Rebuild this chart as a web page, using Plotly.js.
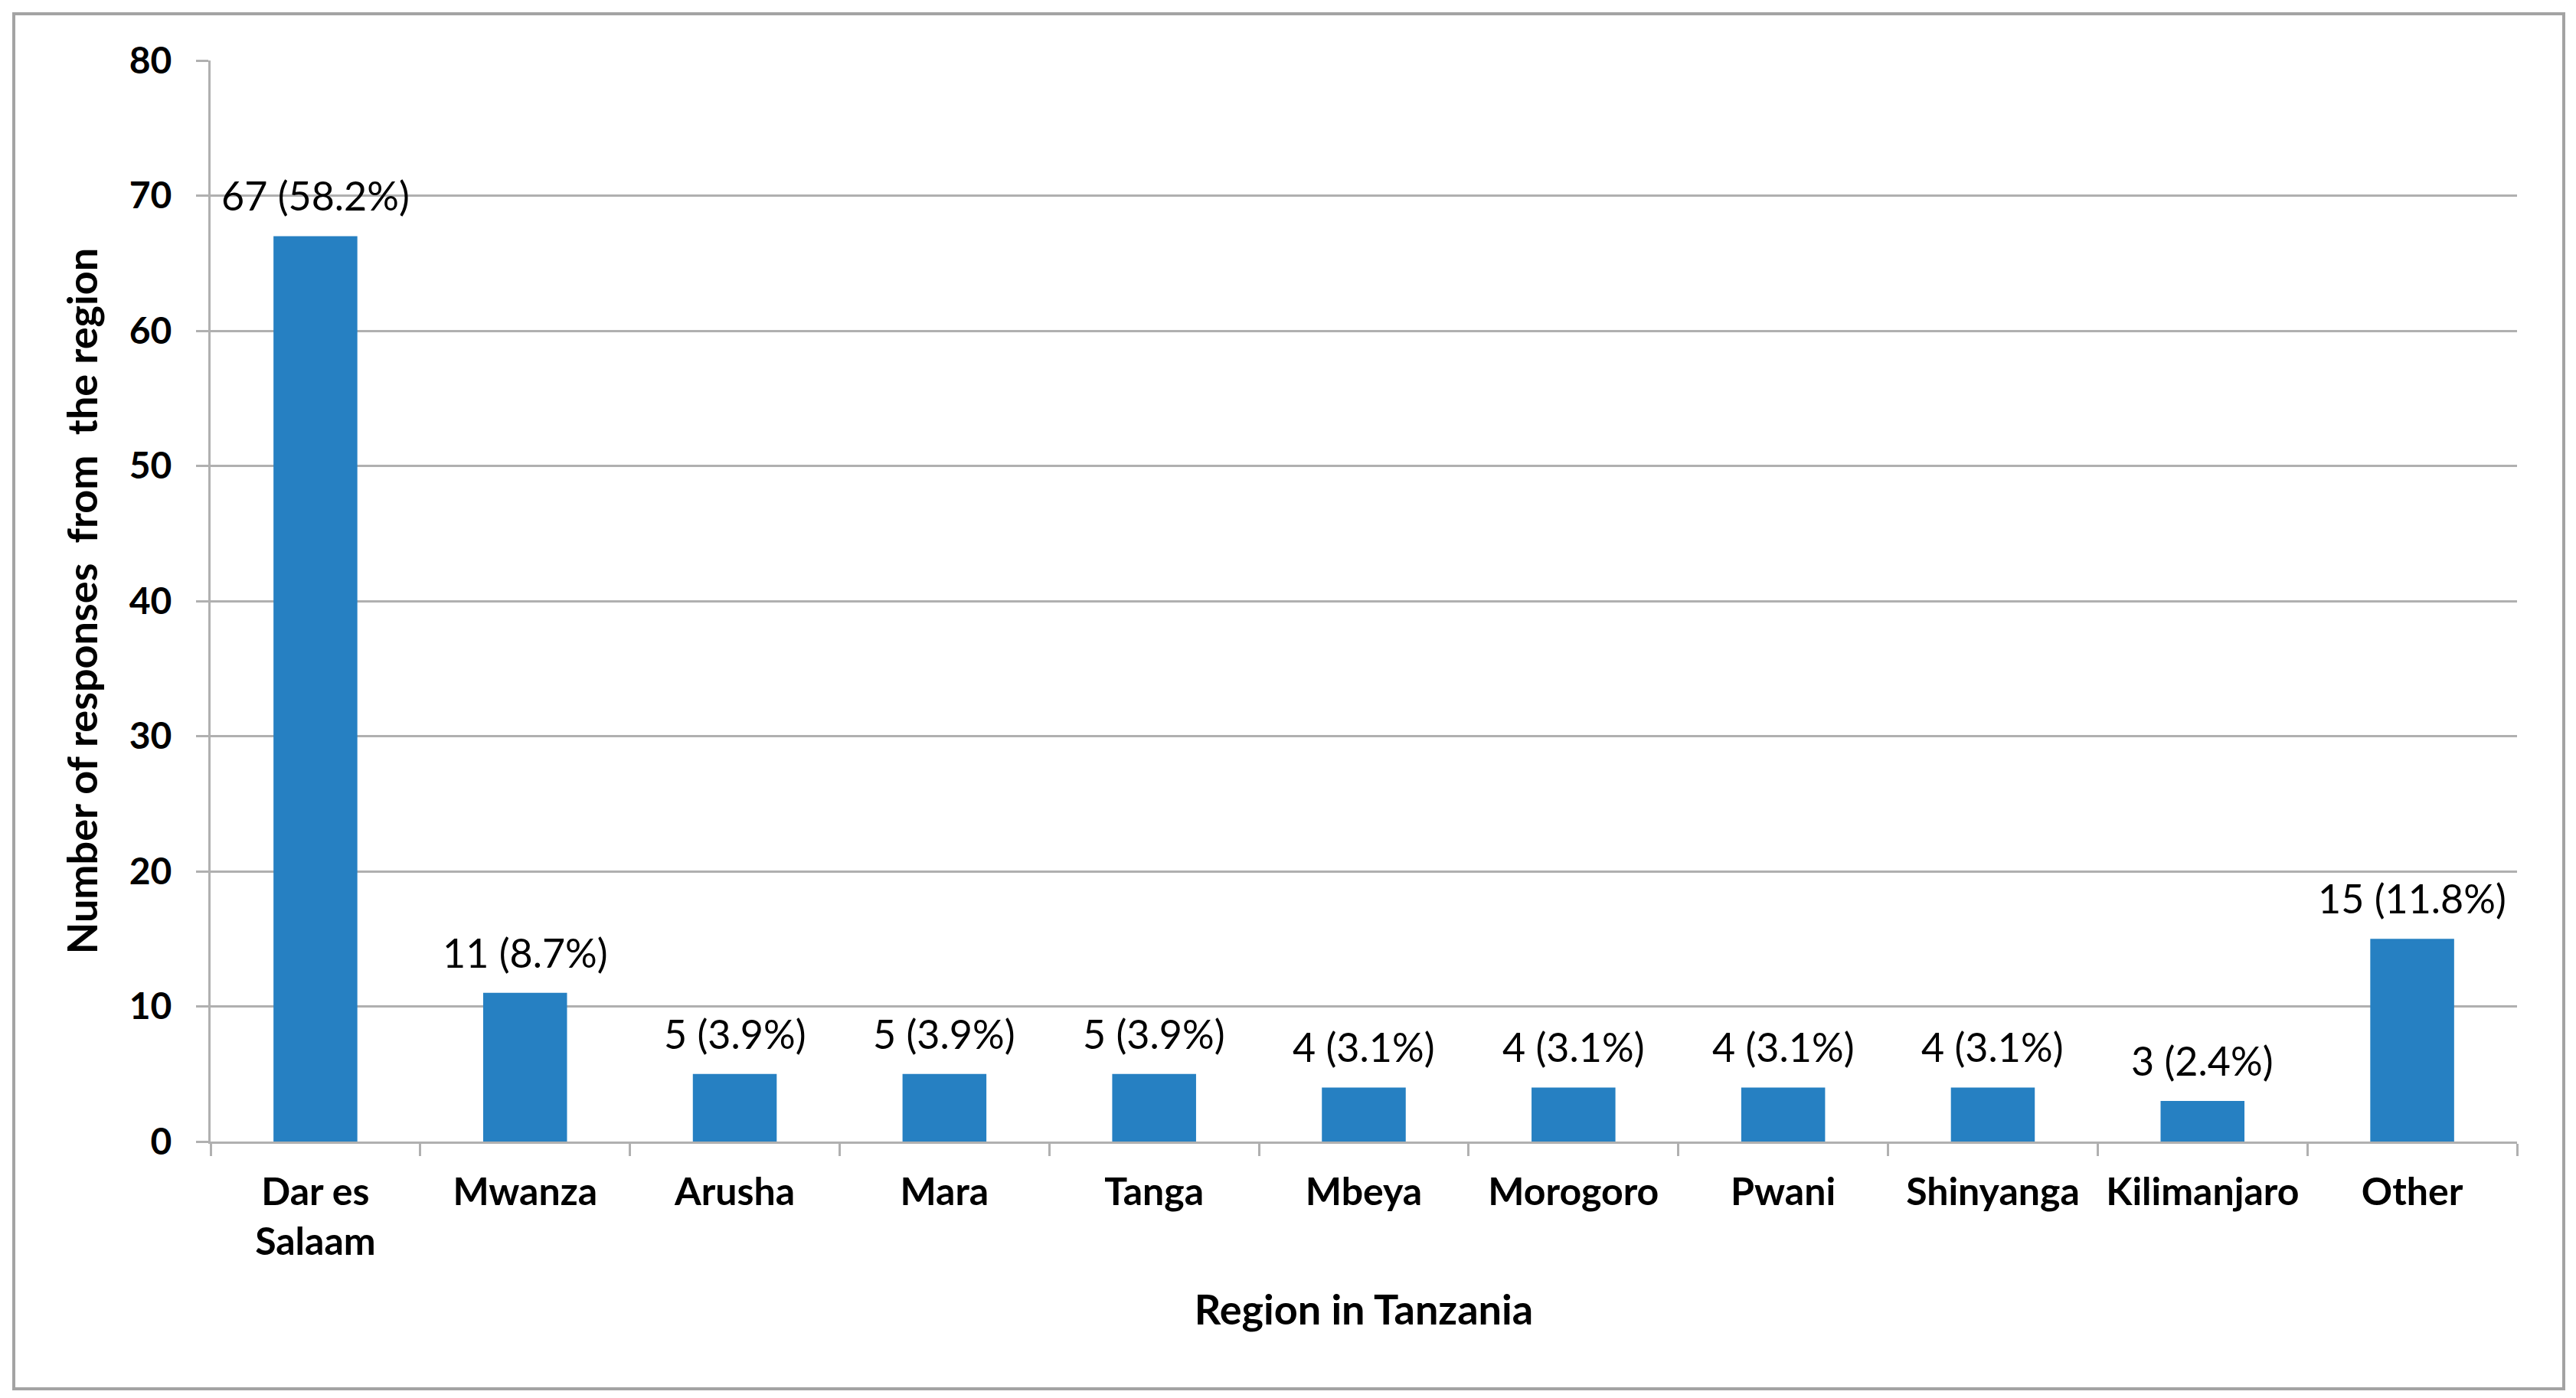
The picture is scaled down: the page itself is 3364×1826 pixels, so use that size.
<!DOCTYPE html>
<html>
<head>
<meta charset="utf-8">
<script src="https://cdn.plot.ly/plotly-3.0.1.min.js"></script>
<style>
  html, body { margin: 0; padding: 0; background: #ffffff; }
  #chart { width: 3364px; height: 1826px; }
  #frame {
    position: absolute; left: 16px; top: 16px;
    width: 3326px; height: 1792px;
    border: 4px solid #a3a3a3; pointer-events: none;
  }
</style>
</head>
<body>
<div id="chart"></div>
<div id="frame"></div>
<script>
// region names as shown on the x axis
const regions = ['Dar es<br>Salaam', 'Mwanza', 'Arusha', 'Mara', 'Tanga', 'Mbeya',
    'Morogoro', 'Pwani', 'Shinyanga', 'Kilimanjaro', 'Other'];
// number of responses per region
const responses = [67, 11, 5, 5, 5, 4, 4, 4, 4, 3, 15];
// share of responses, as printed above the bars
const shares = ['58.2%', '8.7%', '3.9%', '3.9%', '3.9%', '3.1%', '3.1%', '3.1%', '3.1%', '2.4%', '11.8%'];
const yTicks = [0, 10, 20, 30, 40, 50, 60, 70, 80];

const FONT = 'Lato, "Open Sans", "DejaVu Sans", sans-serif';
const BAR_COLOR = '#2680c2';
const GRID = '#b0b0b0';

const bars = {
    type: 'bar',
    x: regions,
    y: responses,
    marker: { color: BAR_COLOR, line: { width: 0 } },
    hoverinfo: 'x+y',
};

// data labels "n (pct)" above each bar
const labels = regions.map((r, i) => ({
    x: r,
    y: responses[i],
    xref: 'x',
    yref: 'y',
    text: `${responses[i]} (${shares[i]})`,
    showarrow: false,
    yanchor: 'bottom',
    yshift: 20,
    font: { family: FONT, size: 52, color: '#000000' },
}));

const layout = {
    width: 3364,
    height: 1826,
    paper_bgcolor: '#ffffff',
    plot_bgcolor: '#ffffff',
    showlegend: false,
    bargap: 0.6,
    margin: { l: 275, r: 77, t: 79, b: 335 },
    font: { family: FONT, color: '#000000' },
    xaxis: {
        type: 'category',
        tickson: 'boundaries',
        ticks: 'outside',
        ticklen: 16,
        tickwidth: 3,
        tickcolor: GRID,
        showline: true,
        linecolor: GRID,
        linewidth: 3,
        showgrid: false,
        ticklabelstandoff: 20,
        tickfont: { family: FONT, size: 50, color: '#000000', weight: 'bold' },
        title: {
            text: 'Region in Tanzania',
            standoff: 44,
            font: { family: FONT, size: 54, color: '#000000', weight: 'bold' },
        },
        automargin: false,
    },
    yaxis: {
        range: [0, 80],
        tickvals: yTicks,
        ticks: 'outside',
        ticklen: 16,
        tickwidth: 3,
        tickcolor: GRID,
        showline: true,
        linecolor: GRID,
        linewidth: 3,
        gridcolor: GRID,
        gridwidth: 3,
        zeroline: false,
        ticklabelstandoff: 22,
        tickfont: { family: FONT, size: 48, color: '#000000', weight: 'bold' },
        title: {
            text: 'Number of responses  from  the region',
            standoff: 24,
            font: { family: FONT, size: 54, color: '#000000', weight: 'bold' },
        },
        automargin: false,
    },
    annotations: labels,
};

try {
    Plotly.newPlot('chart', [bars], layout, { displayModeBar: false, staticPlot: true });
} catch (e) {
    console.log(e);
}
</script>
</body>
</html>
